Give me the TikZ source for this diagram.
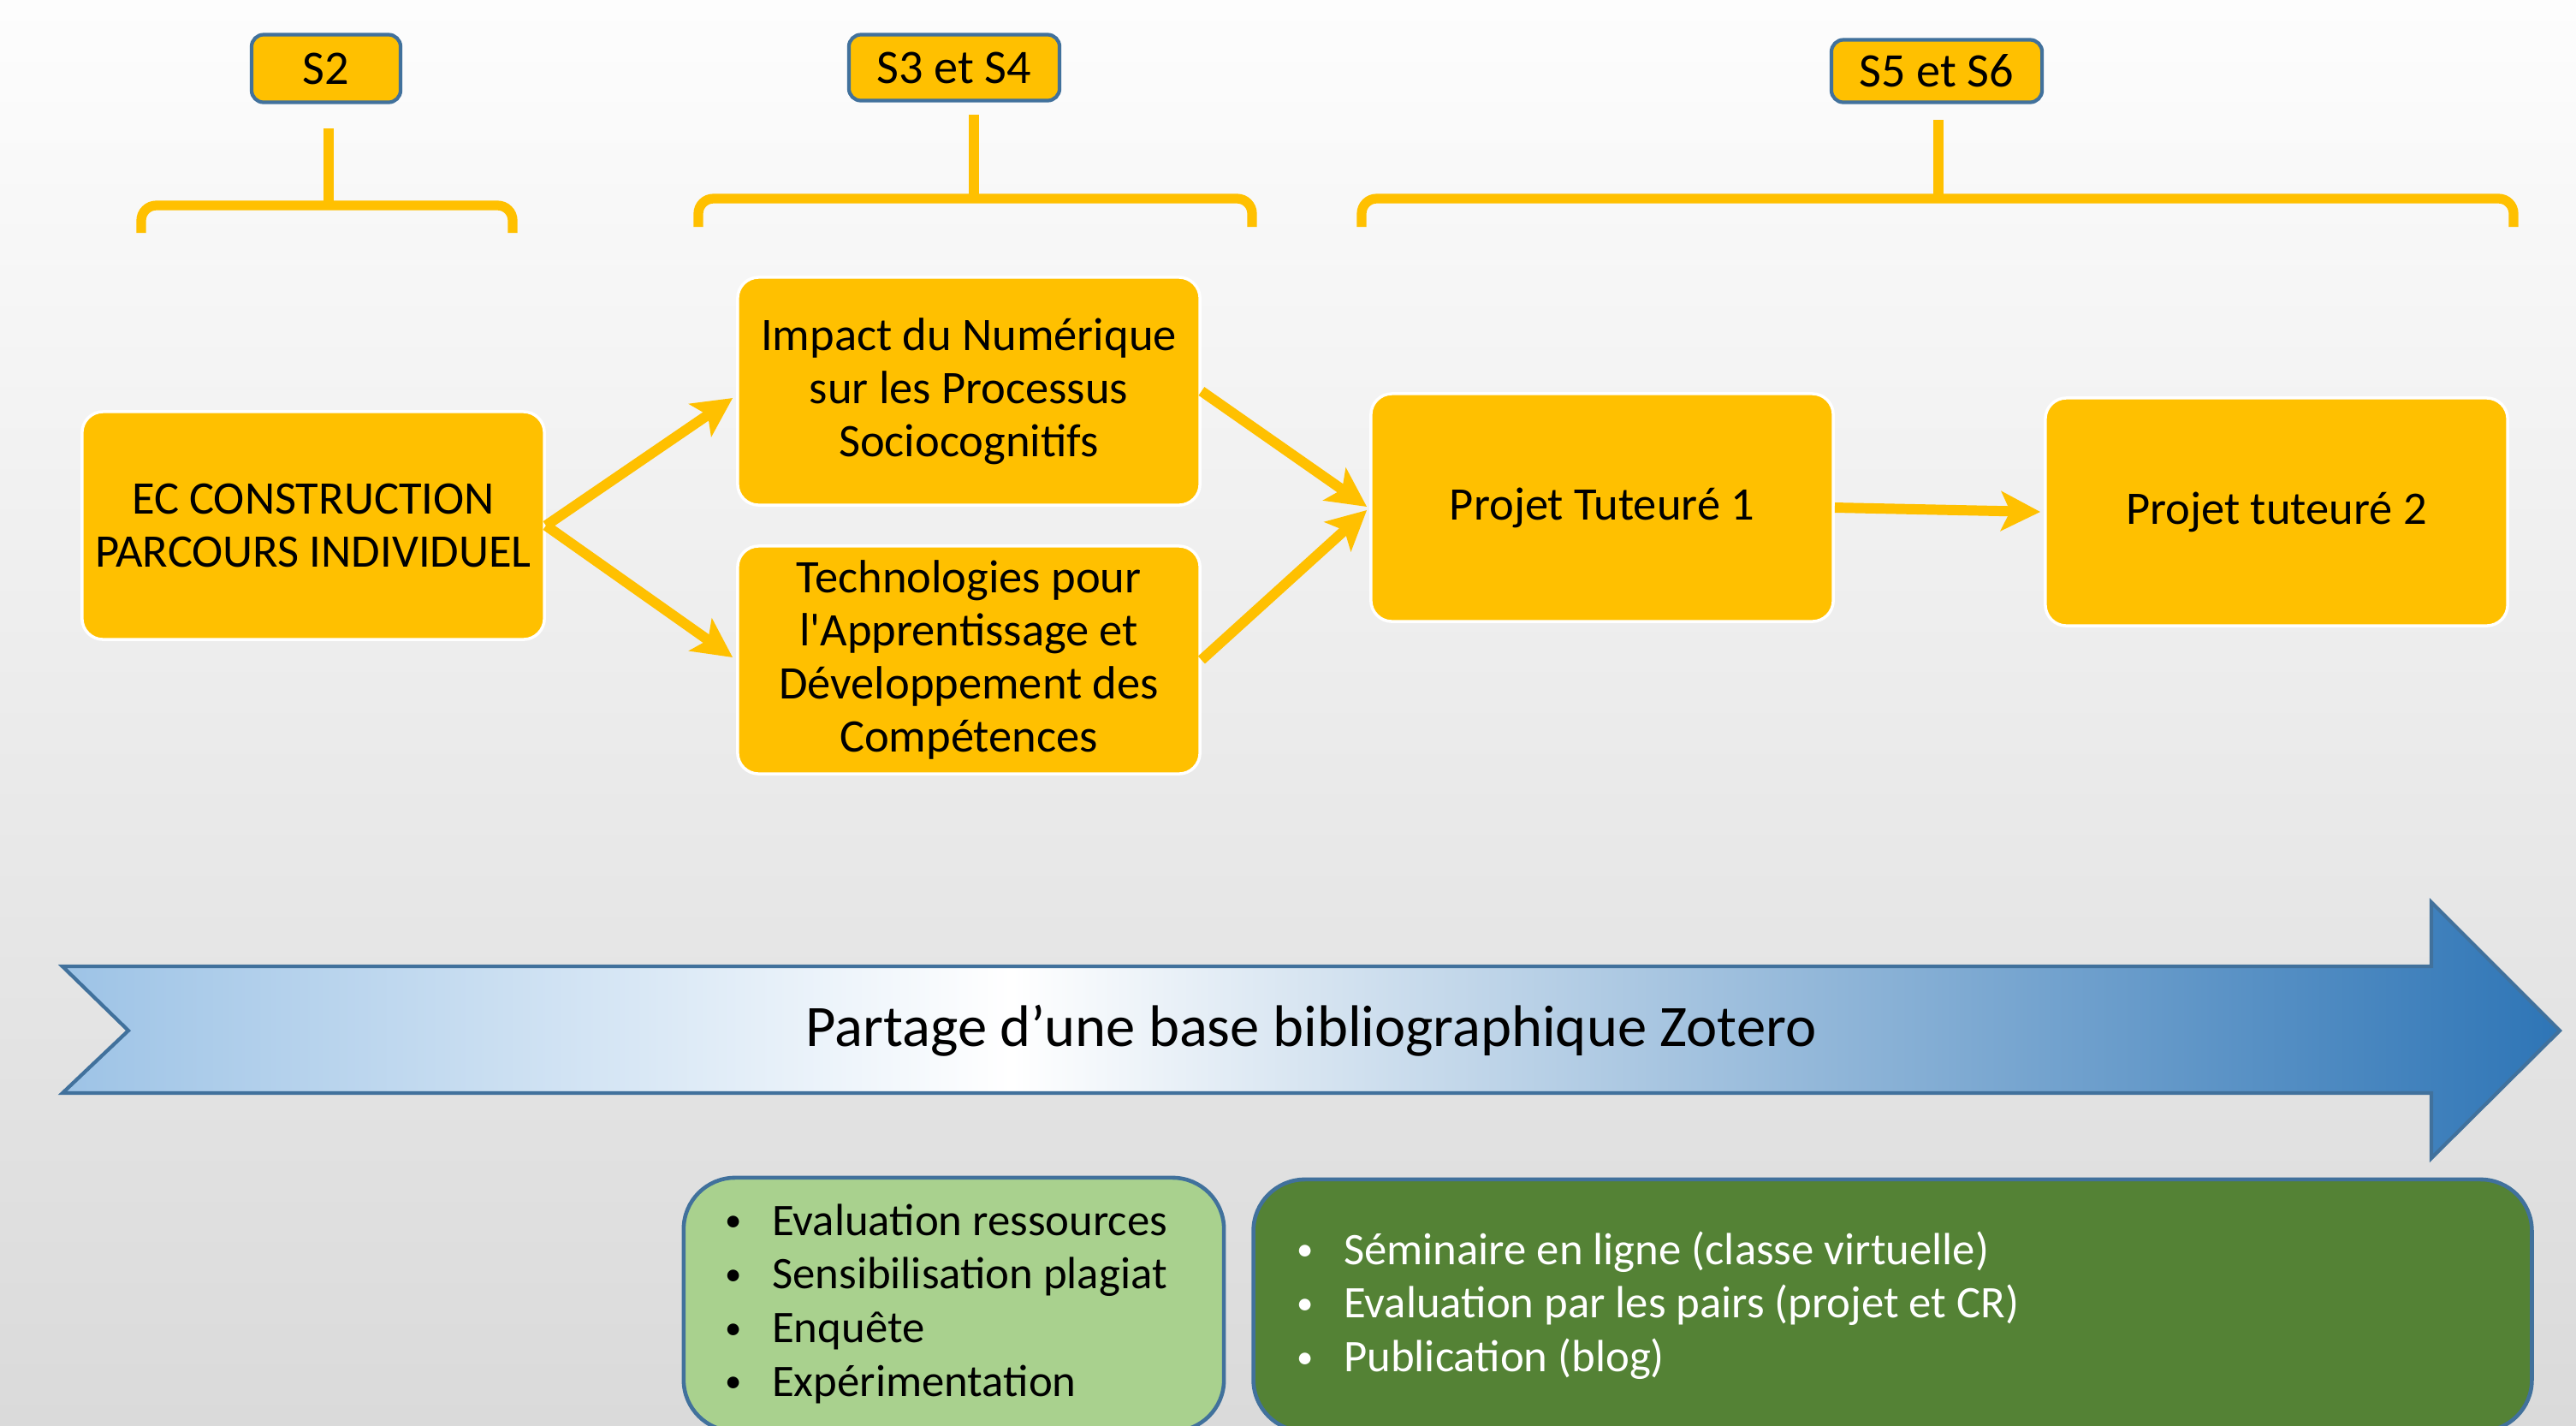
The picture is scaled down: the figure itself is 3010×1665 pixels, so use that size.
\documentclass[tikz,border=0pt]{standalone}
\usepackage{fontspec}
\setmainfont{Carlito}
\usetikzlibrary{arrows.meta,calc}
\definecolor{yel}{HTML}{FFC000}
\definecolor{sb}{HTML}{41719C}
\definecolor{lb}{HTML}{9DC3E6}
\definecolor{db}{HTML}{2E75B6}
\definecolor{lgr}{HTML}{A9D18E}
\definecolor{dgr}{HTML}{548235}
\definecolor{bgtop}{HTML}{FDFDFD}
\definecolor{bgbot}{HTML}{DADADA}
\pgfdeclarehorizontalshading{zotshade}{100bp}{color(0bp)=(lb); color(25bp)=(lb); color(44bp)=(white); color(75bp)=(db); color(100bp)=(db)}
\newcommand{\blt}{\makebox[15.5pt][l]{\raisebox{1.2pt}{\fontsize{11}{11}\selectfont\textbullet}}}
\begin{document}
\begin{tikzpicture}[x=0.01cm,y=-0.01cm,
  sem/.style={draw=sb, line width=1.2pt, fill=yel, rounded corners=4pt, inner sep=0pt,
    font=\fontsize{16}{19}\selectfont},
  course/.style={fill=yel, draw=white, line width=1pt, rounded corners=7pt, align=center,
    inner sep=0pt, minimum width=5.4cm, minimum height=2.66cm,
    font=\fontsize{15.5}{17.6}\selectfont},
  conn/.style={yel, line width=3.4pt, -{Stealth[length=13pt,width=13pt,inset=3pt]}},
  brace/.style={yel, line width=3.2pt},
  listbox/.style={draw=sb, line width=1.3pt, rounded corners=0.6cm, inner sep=0pt},
  listtext/.style={anchor=west, align=left, inner sep=0pt, font=\fontsize{15}{17.8}\selectfont}]
\clip (0,0) rectangle (3010,1665);
\fill[top color=bgtop, bottom color=bgbot] (0,0) rectangle (3010,1665);

% semester labels
\node[sem, minimum width=1.74cm, minimum height=0.79cm] (s2) at (381,80) {S2};
\node[sem, minimum width=2.46cm, minimum height=0.77cm] (s34) at (1115,79) {S3 et S4};
\node[sem, minimum width=2.46cm, minimum height=0.73cm] (s56) at (2263,83) {S5 et S6};

% brackets
\draw[brace, rounded corners=5pt] (165,272) -- (165,240) -- (599,240) -- (599,272);
\draw[brace] (384,150) -- (384,240);
\draw[brace, rounded corners=5pt] (816,265) -- (816,232) -- (1463,232) -- (1463,265);
\draw[brace] (1138,134) -- (1138,232);
\draw[brace, rounded corners=5pt] (1591,265) -- (1591,232) -- (2937,232) -- (2937,265);
\draw[brace] (2265,140) -- (2265,232);

% course nodes
\node[course] (ec) at (366,614) {EC CONSTRUCTION\\PARCOURS INDIVIDUEL};
\node[course] (imp) at (1132,457) {Impact du Numérique\\sur les Processus\\Sociocognitifs};
\node[course] (tech) at (1132,771) {Technologies pour\\l\textquotesingle Apprentissage et\\Développement des\\Compétences};
\node[course] (pt1) at (1872,593) {Projet Tuteuré 1};
\node[course] (pt2) at (2660,598) {Projet tuteuré 2};

% connectors
\draw[conn] (ec.east) -- ($(imp.west)+(-4,8)$);
\draw[conn] (ec.east) -- ($(tech.west)+(-4,-3)$);
\draw[conn] (imp.east) -- ($(pt1.west)+(-3,-1)$);
\draw[conn] (tech.east) -- ($(pt1.west)+(-3,3)$);
\draw[conn] (pt1.east) -- ($(pt2.west)+(-4,0)$);

% big arrow
\draw[draw=sb, line width=1.2pt, shading=zotshade]
  (73,1129) -- (2841,1129) -- (2841,1054) -- (2991,1204) -- (2841,1353)
  -- (2841,1277) -- (73,1277) -- (150,1204) -- cycle;
\node[font=\fontsize{19.5}{23}\selectfont] (zot) at (1532,1204) {Partage d’une base bibliographique Zotero};

% bottom boxes
\node[listbox, fill=lgr, minimum width=6.31cm, minimum height=2.96cm] (lg) at (1114.5,1524) {};
\node[listbox, fill=dgr, minimum width=14.93cm, minimum height=2.94cm] (dg) at (2211.5,1525) {};
\node[listtext] (lgt) at (847,1523) {\blt Evaluation ressources\\
  \blt Sensibilisation plagiat\\
  \blt Enquête\\
  \blt Expérimentation};
\node[listtext, text=white] (dgt) at (1515,1525) {\blt Séminaire en ligne (classe virtuelle)\\
  \blt Evaluation par les pairs (projet et CR)\\
  \blt Publication (blog)};
\end{tikzpicture}
\end{document}
